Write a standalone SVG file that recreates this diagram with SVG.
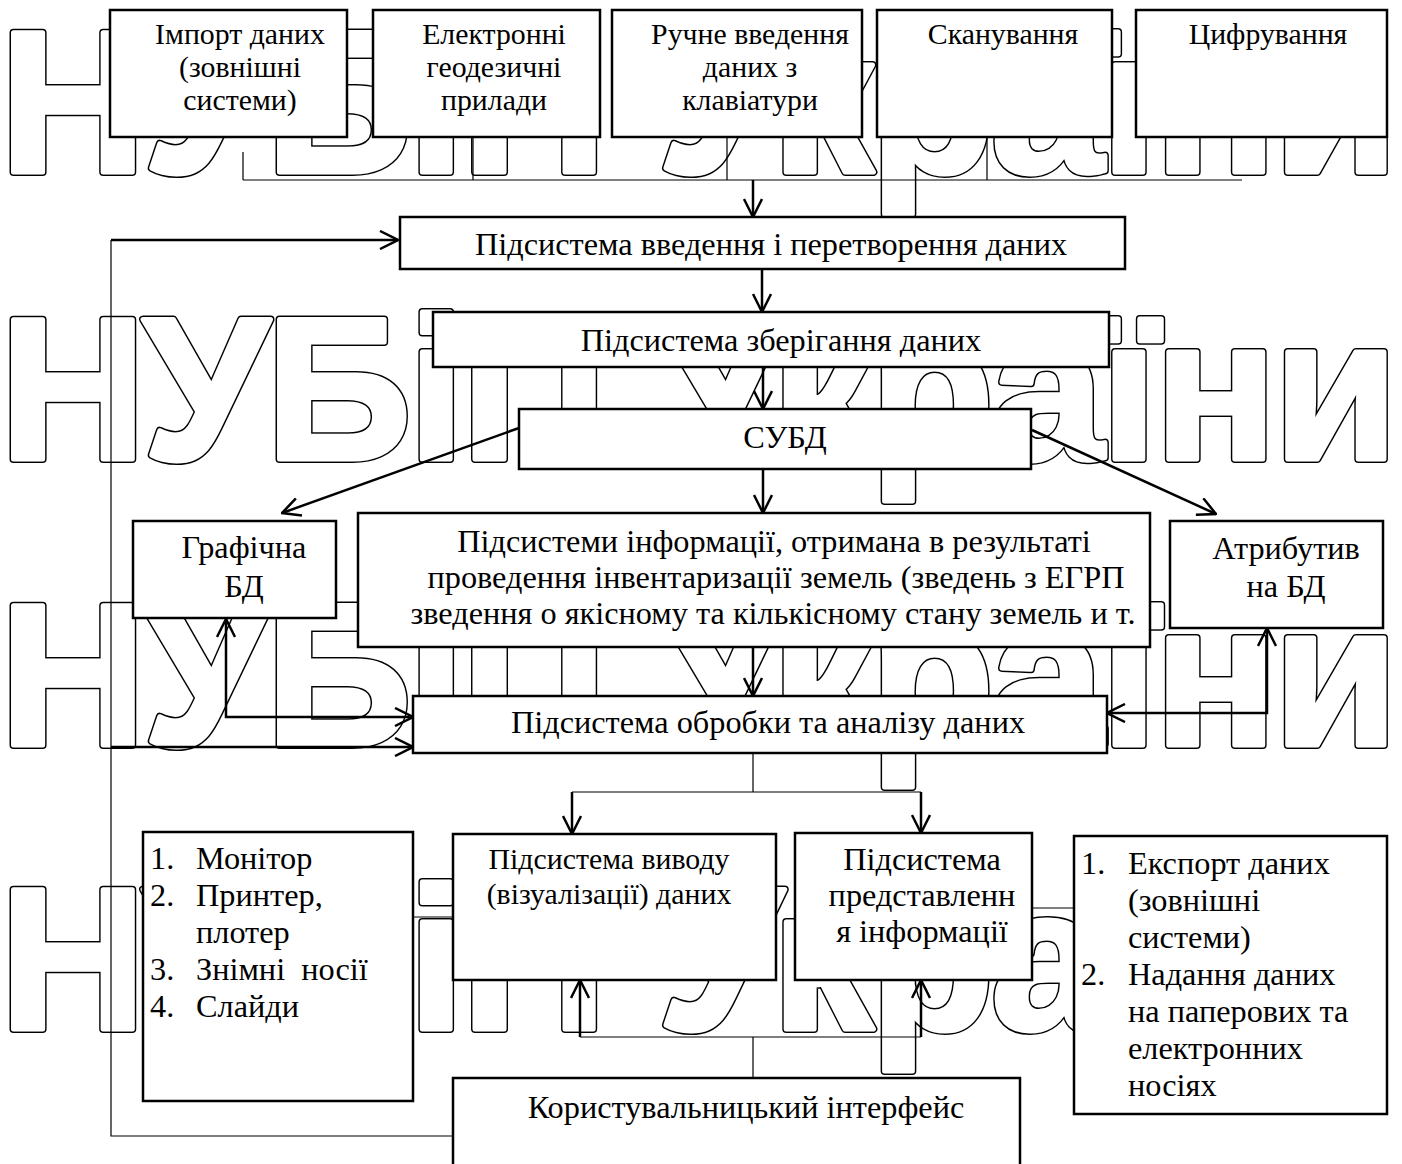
<svg xmlns="http://www.w3.org/2000/svg" width="1402" height="1164" viewBox="0 0 1402 1164">
<style>
.box{fill:#fff;stroke:#000;stroke-width:2.5}
.t{font-family:"Liberation Serif","Times New Roman",serif;font-size:29.8px;fill:#000;text-anchor:middle}
.tb{font-family:"Liberation Serif","Times New Roman",serif;font-size:32.3px;fill:#000;text-anchor:middle}
.tl{font-family:"Liberation Serif","Times New Roman",serif;font-size:32.3px;fill:#000}
.thin{stroke:#000;stroke-width:1.2;fill:none}
.thick{stroke:#000;stroke-width:2.5;fill:none}
.wa{font-family:"Liberation Sans",Arial,sans-serif;font-weight:bold;font-size:202px;fill:none;stroke:#000;stroke-width:8;stroke-linejoin:round}
.wb{font-family:"Liberation Sans",Arial,sans-serif;font-weight:bold;font-size:202px;fill:#fff;stroke:#fff;stroke-width:5;stroke-linejoin:round}
</style>
<defs>
<marker id="arr" viewBox="0 0 20 20" refX="19" refY="10" markerWidth="20" markerHeight="20" orient="auto-start-reverse" markerUnits="userSpaceOnUse">
<path d="M1,1 L19,10 L1,19" fill="none" stroke="#000" stroke-width="2.5"/>
</marker>
</defs>
<rect width="1402" height="1164" fill="#fff"/>
<g id="watermark">
<text class="wa" x="0" y="172" textLength="1398" lengthAdjust="spacing">НУБіП України</text>
<text class="wb" x="0" y="172" textLength="1398" lengthAdjust="spacing">НУБіП України</text>
<text class="wa" x="0" y="459" textLength="1398" lengthAdjust="spacing">НУБіП України</text>
<text class="wb" x="0" y="459" textLength="1398" lengthAdjust="spacing">НУБіП України</text>
<text class="wa" x="0" y="745" textLength="1398" lengthAdjust="spacing">НУБіП України</text>
<text class="wb" x="0" y="745" textLength="1398" lengthAdjust="spacing">НУБіП України</text>
<text class="wa" x="0" y="1029" textLength="1398" lengthAdjust="spacing">НУБіП України</text>
<text class="wb" x="0" y="1029" textLength="1398" lengthAdjust="spacing">НУБіП України</text>
</g>
<g id="n-import"><rect class="box" x="110" y="10" width="237" height="127"/><text class="t"><tspan x="240" y="44">Імпорт даних</tspan><tspan x="240" y="77">(зовнішні</tspan><tspan x="240" y="110">системи)</tspan></text></g>
<g id="n-geo"><rect class="box" x="373" y="10" width="227" height="127"/><text class="t"><tspan x="494" y="44">Електронні</tspan><tspan x="494" y="77">геодезичні</tspan><tspan x="494" y="110">прилади</tspan></text></g>
<g id="n-manual"><rect class="box" x="612" y="10" width="250" height="127"/><text class="t"><tspan x="750" y="44">Ручне введення</tspan><tspan x="750" y="77">даних з</tspan><tspan x="750" y="110">клавіатури</tspan></text></g>
<g id="n-scan"><rect class="box" x="877" y="10" width="235" height="127"/><text class="t" x="1003" y="44">Сканування</text></g>
<g id="n-digit"><rect class="box" x="1136" y="10" width="251" height="127"/><text class="t" x="1268" y="44">Цифрування</text></g>
<g id="n-input"><rect class="box" x="400" y="217" width="725" height="52"/><text class="tb" x="771" y="255">Підсистема введення і перетворення даних</text></g>
<g id="n-store"><rect class="box" x="433" y="312" width="676" height="55"/><text class="tb" x="781" y="351">Підсистема зберігання даних</text></g>
<g id="n-dbms"><rect class="box" x="519" y="409" width="512" height="60"/><text class="tb" x="785" y="448">СУБД</text></g>
<g id="n-graph"><rect class="box" x="133" y="521" width="203" height="97"/><text class="tb"><tspan x="244" y="558">Графічна</tspan><tspan x="244" y="597">БД</tspan></text></g>
<g id="n-info"><rect class="box" x="358" y="513" width="792" height="134"/><text class="tb"><tspan x="774" y="552">Підсистеми інформації, отримана в результаті</tspan><tspan x="776" y="588">проведення інвентаризації земель (зведень з ЕГРП</tspan><tspan x="773" y="624">зведення о якісному та кількісному стану земель и т.</tspan></text></g>
<g id="n-attr"><rect class="box" x="1170" y="521" width="213" height="107"/><text class="tb"><tspan x="1286" y="559">Атрибутив</tspan><tspan x="1286" y="597">на БД</tspan></text></g>
<g id="n-proc"><rect class="box" x="413" y="696" width="694" height="57"/><text class="tb" x="768" y="733">Підсистема обробки та аналізу даних</text></g>
<g id="n-devices"><rect class="box" x="143" y="832" width="270" height="269"/>
<text class="tl"><tspan x="150" y="869">1.</tspan><tspan x="196" y="869">Монітор</tspan><tspan x="150" y="906">2.</tspan><tspan x="196" y="906">Принтер,</tspan><tspan x="196" y="943">плотер</tspan><tspan x="150" y="980">3.</tspan><tspan x="196" y="980">Знімні&#160; носії</tspan><tspan x="150" y="1017">4.</tspan><tspan x="196" y="1017">Слайди</tspan></text></g>
<g id="n-output"><rect class="box" x="453" y="834" width="323" height="146"/><text class="t"><tspan x="609" y="869">Підсистема виводу</tspan><tspan x="609" y="904">(візуалізації) даних</tspan></text></g>
<g id="n-present"><rect class="box" x="795" y="833" width="237" height="147"/><text class="tb"><tspan x="922" y="870">Підсистема</tspan><tspan x="922" y="906">представленн</tspan><tspan x="922" y="942">я інформації</tspan></text></g>
<g id="n-export"><rect class="box" x="1074" y="836" width="313" height="278"/>
<text class="tl"><tspan x="1081" y="874">1.</tspan><tspan x="1128" y="874">Експорт даних</tspan><tspan x="1128" y="911">(зовнішні</tspan><tspan x="1128" y="948">системи)</tspan><tspan x="1081" y="985">2.</tspan><tspan x="1128" y="985">Надання даних</tspan><tspan x="1128" y="1022">на паперових та</tspan><tspan x="1128" y="1059">електронних</tspan><tspan x="1128" y="1096">носіях</tspan></text></g>
<g id="n-ui"><rect class="box" x="453" y="1078" width="567" height="100"/><text class="tb" x="746" y="1118">Користувальницький інтерфейс</text></g>
<g id="connectors">
<path class="thin" d="M243,152 V180 M473,137 V180 M727,137 V180 M987,137 V180 M243,180 H1242"/>
<path class="thick" d="M753,180 V217" marker-end="url(#arr)"/>
<path class="thin" d="M111,240 V1136 H453"/>
<path class="thick" d="M111,240 H398" marker-end="url(#arr)"/>
<path class="thick" d="M762,269 V312" marker-end="url(#arr)"/>
<path class="thick" d="M763,367 V409" marker-end="url(#arr)"/>
<path class="thick" d="M763,469 V513" marker-end="url(#arr)"/>
<path class="thick" d="M519,428 L282,513" marker-end="url(#arr)"/>
<path class="thick" d="M1032,430 L1216,514" marker-end="url(#arr)"/>
<path class="thick" d="M753,647 V696" marker-end="url(#arr)"/>
<path class="thick" d="M226,619 V717 H413" marker-start="url(#arr)" marker-end="url(#arr)"/>
<path class="thick" d="M111,747 H413" marker-end="url(#arr)"/>
<path class="thick" d="M1107,713 H1267 V628" marker-start="url(#arr)" marker-end="url(#arr)"/>
<path class="thin" d="M753,753 V792 M572,792 H921 M753,1078 V1037 M580,1037 H921 M413,917 H453 M1032,908 H1074"/>
<path class="thick" d="M572,792 V834" marker-end="url(#arr)"/>
<path class="thick" d="M921,792 V833" marker-end="url(#arr)"/>
<path class="thick" d="M580,1037 V980" marker-end="url(#arr)"/>
<path class="thick" d="M921,1037 V980" marker-end="url(#arr)"/>
</g>
</svg>
